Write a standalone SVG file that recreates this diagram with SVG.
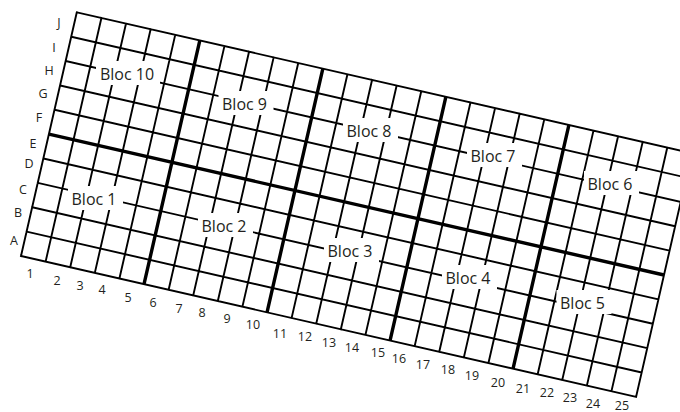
<svg xmlns="http://www.w3.org/2000/svg" width="680" height="412" viewBox="0 0 680 412">
<style>
.thin{fill:none;stroke:#000;stroke-width:1.9;stroke-linecap:square}
.thick{fill:none;stroke:#000;stroke-width:3.4;stroke-linecap:butt}
.bg{fill:#fff}
.bloc{font-family:"Open Sans","Liberation Sans",sans-serif;font-size:16px;fill:#231f20;text-anchor:middle}
.lbl{font-family:"Open Sans","Liberation Sans",sans-serif;font-size:12.5px;fill:#231f20;text-anchor:middle}
.num{font-family:"Open Sans","Liberation Sans",sans-serif;font-size:12.5px;fill:#231f20;text-anchor:middle}
</style>
<rect width="680" height="412" fill="#fff"/>
<g id="grid" transform="translate(21,256) rotate(12.9)">
<path class="thin" d="M0 0V-250M25.24 0V-250M50.48 0V-250M75.72 0V-250M100.96 0V-250M151.44 0V-250M176.68 0V-250M201.92 0V-250M227.16 0V-250M277.64 0V-250M302.88 0V-250M328.12 0V-250M353.36 0V-250M403.84 0V-250M429.08 0V-250M454.32 0V-250M479.56 0V-250M530.04 0V-250M555.28 0V-250M580.52 0V-250M605.76 0V-250M631 0V-250M0 0H631M0 -25H631M0 -50H631M0 -75H631M0 -100H631M0 -150H631M0 -175H631M0 -200H631M0 -225H631M0 -250H631"/>
<path class="thick" d="M126.2 0V-250M252.4 0V-250M378.6 0V-250M504.8 0V-250M0 -125H631"/>
</g>
<g id="bloc10"><rect class="bg" x="96" y="61" width="64" height="24"/><text class="bloc" x="127" y="80">Bloc 10</text></g>
<g id="bloc9"><rect class="bg" x="218.5" y="91" width="55" height="24"/><text class="bloc" x="244.5" y="110">Bloc 9</text></g>
<g id="bloc8"><rect class="bg" x="343" y="118" width="55" height="24"/><text class="bloc" x="369" y="137">Bloc 8</text></g>
<g id="bloc7"><rect class="bg" x="467" y="143" width="55" height="24"/><text class="bloc" x="493" y="162">Bloc 7</text></g>
<g id="bloc6"><rect class="bg" x="584" y="171" width="55" height="24"/><text class="bloc" x="610" y="190">Bloc 6</text></g>
<g id="bloc1"><rect class="bg" x="68" y="186" width="55" height="24"/><text class="bloc" x="94" y="205">Bloc 1</text></g>
<g id="bloc2"><rect class="bg" x="198" y="213" width="55" height="24"/><text class="bloc" x="224" y="232">Bloc 2</text></g>
<g id="bloc3"><rect class="bg" x="324" y="238" width="55" height="24"/><text class="bloc" x="350" y="257">Bloc 3</text></g>
<g id="bloc4"><rect class="bg" x="442" y="265" width="55" height="24"/><text class="bloc" x="468" y="284">Bloc 4</text></g>
<g id="bloc5"><rect class="bg" x="556.5" y="290" width="55" height="24"/><text class="bloc" x="582.5" y="309">Bloc 5</text></g>
<g id="rows">
<text class="lbl" x="59" y="27">J</text>
<text class="lbl" x="54" y="52">I</text>
<text class="lbl" x="49" y="75">H</text>
<text class="lbl" x="43" y="98">G</text>
<text class="lbl" x="39" y="122">F</text>
<text class="lbl" x="33" y="148">E</text>
<text class="lbl" x="29" y="168">D</text>
<text class="lbl" x="23" y="194">C</text>
<text class="lbl" x="18" y="217">B</text>
<text class="lbl" x="14" y="245">A</text>
</g>
<g id="cols">
<text class="num" x="30" y="278">1</text>
<text class="num" x="57" y="285">2</text>
<text class="num" x="80" y="290">3</text>
<text class="num" x="102" y="294">4</text>
<text class="num" x="128" y="302">5</text>
<text class="num" x="153" y="307">6</text>
<text class="num" x="179" y="313">7</text>
<text class="num" x="202" y="317">8</text>
<text class="num" x="227" y="323">9</text>
<text class="num" x="253" y="329">10</text>
<text class="num" x="280" y="338">11</text>
<text class="num" x="305" y="341">12</text>
<text class="num" x="329" y="347">13</text>
<text class="num" x="352" y="352">14</text>
<text class="num" x="378" y="357">15</text>
<text class="num" x="399" y="363">16</text>
<text class="num" x="423" y="369">17</text>
<text class="num" x="448" y="374">18</text>
<text class="num" x="472" y="380">19</text>
<text class="num" x="498" y="387">20</text>
<text class="num" x="523" y="393">21</text>
<text class="num" x="547" y="397">22</text>
<text class="num" x="570" y="402">23</text>
<text class="num" x="593" y="408">24</text>
<text class="num" x="622" y="410">25</text>
</g>
</svg>
